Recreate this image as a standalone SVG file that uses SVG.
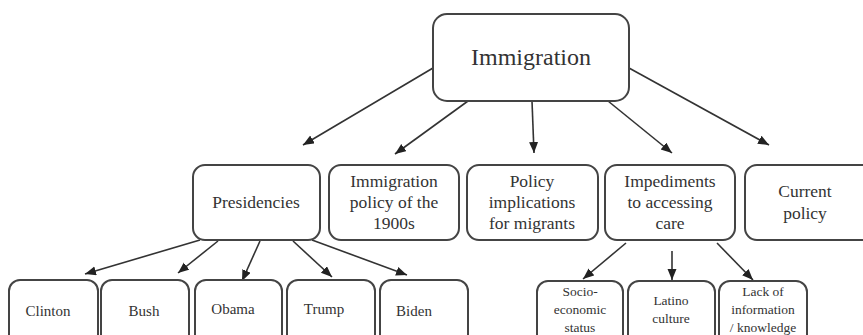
<svg xmlns="http://www.w3.org/2000/svg" width="863" height="335" viewBox="0 0 863 335">
<style>
.box{fill:#fff;stroke:#444;stroke-width:2}
.t{font-family:'Liberation Serif','DejaVu Serif',serif;fill:#333;text-anchor:middle}
.l{font-size:17.5px}
.s{font-size:13.5px}
.c{stroke:#333;stroke-width:1.6;fill:none;marker-end:url(#ah)}
</style>
<defs>
<marker id="ah" markerUnits="userSpaceOnUse" markerWidth="12" markerHeight="10" refX="11" refY="4.5" orient="auto">
<path d="M0,0 L11,4.5 L0,9 z" fill="#222"/>
</marker>
</defs>
<rect width="863" height="335" fill="#fff"/>
<g id="connectors">
<line class="c" x1="433" y1="68" x2="303" y2="145"/>
<line class="c" x1="468" y1="101" x2="395" y2="154"/>
<line class="c" x1="532" y1="101" x2="534" y2="153"/>
<line class="c" x1="608" y1="101" x2="672" y2="153"/>
<line class="c" x1="629" y1="68" x2="769" y2="145"/>
<line class="c" x1="200" y1="240" x2="85" y2="274"/>
<line class="c" x1="218" y1="241" x2="178" y2="273"/>
<line class="c" x1="260" y1="241" x2="242" y2="281"/>
<line class="c" x1="293" y1="241" x2="332" y2="277"/>
<line class="c" x1="312" y1="240" x2="407" y2="275"/>
<line class="c" x1="626" y1="243" x2="583" y2="279"/>
<line class="c" x1="672" y1="251" x2="672" y2="280"/>
<line class="c" x1="717" y1="243" x2="753" y2="280"/>
</g>
<g id="immigration">
<rect class="box" x="433" y="14" width="196" height="87" rx="14"/>
<text class="t" x="531" y="65" font-size="24" font-family="Liberation Serif, serif">Immigration</text>
</g>
<g id="presidencies">
<rect class="box" x="193" y="165" width="127" height="75" rx="12"/>
<text class="t l" x="256" y="208">Presidencies</text>
</g>
<g id="immigration-policy">
<rect class="box" x="329" y="165" width="130" height="75" rx="12"/>
<text class="t l" x="394" y="187">Immigration<tspan x="394" dy="21">policy of the</tspan><tspan x="394" dy="21">1900s</tspan></text>
</g>
<g id="policy-implications">
<rect class="box" x="467" y="165" width="131" height="75" rx="12"/>
<text class="t l" x="532" y="187">Policy<tspan x="532" dy="21">implications</tspan><tspan x="532" dy="21">for migrants</tspan></text>
</g>
<g id="impediments">
<rect class="box" x="605" y="165" width="130" height="75" rx="12"/>
<text class="t l" x="670" y="187">Impediments<tspan x="670" dy="21">to accessing</tspan><tspan x="670" dy="21">care</tspan></text>
</g>
<g id="current-policy">
<rect class="box" x="745" y="165" width="130" height="75" rx="12"/>
<text class="t l" x="805" y="197">Current<tspan x="805" dy="22">policy</tspan></text>
</g>
<g id="clinton">
<rect class="box" x="9" y="280" width="89" height="70" rx="11"/>
<text class="t" x="48" y="316" font-size="15">Clinton</text>
</g>
<g id="bush">
<rect class="box" x="101" y="280" width="88" height="70" rx="11"/>
<text class="t" x="144" y="316" font-size="15">Bush</text>
</g>
<g id="obama">
<rect class="box" x="195" y="280" width="87" height="70" rx="11"/>
<text class="t" x="233" y="314" font-size="15">Obama</text>
</g>
<g id="trump">
<rect class="box" x="287" y="280" width="88" height="70" rx="11"/>
<text class="t" x="324" y="314" font-size="15">Trump</text>
</g>
<g id="biden">
<rect class="box" x="380" y="280" width="88" height="70" rx="11"/>
<text class="t" x="414" y="316" font-size="15">Biden</text>
</g>
<g id="socioeconomic">
<rect class="box" x="537" y="281" width="86" height="70" rx="11"/>
<text class="t s" x="580" y="296">Socio-<tspan x="580" dy="18">economic</tspan><tspan x="580" dy="18">status</tspan></text>
</g>
<g id="latino-culture">
<rect class="box" x="628" y="281" width="87" height="70" rx="11"/>
<text class="t s" x="671" y="305">Latino<tspan x="671" dy="18">culture</tspan></text>
</g>
<g id="lack-of-information">
<rect class="box" x="719" y="281" width="88" height="70" rx="11"/>
<text class="t s" x="763" y="296">Lack of<tspan x="763" dy="18">information</tspan><tspan x="763" dy="18">/ knowledge</tspan></text>
</g>
</svg>
